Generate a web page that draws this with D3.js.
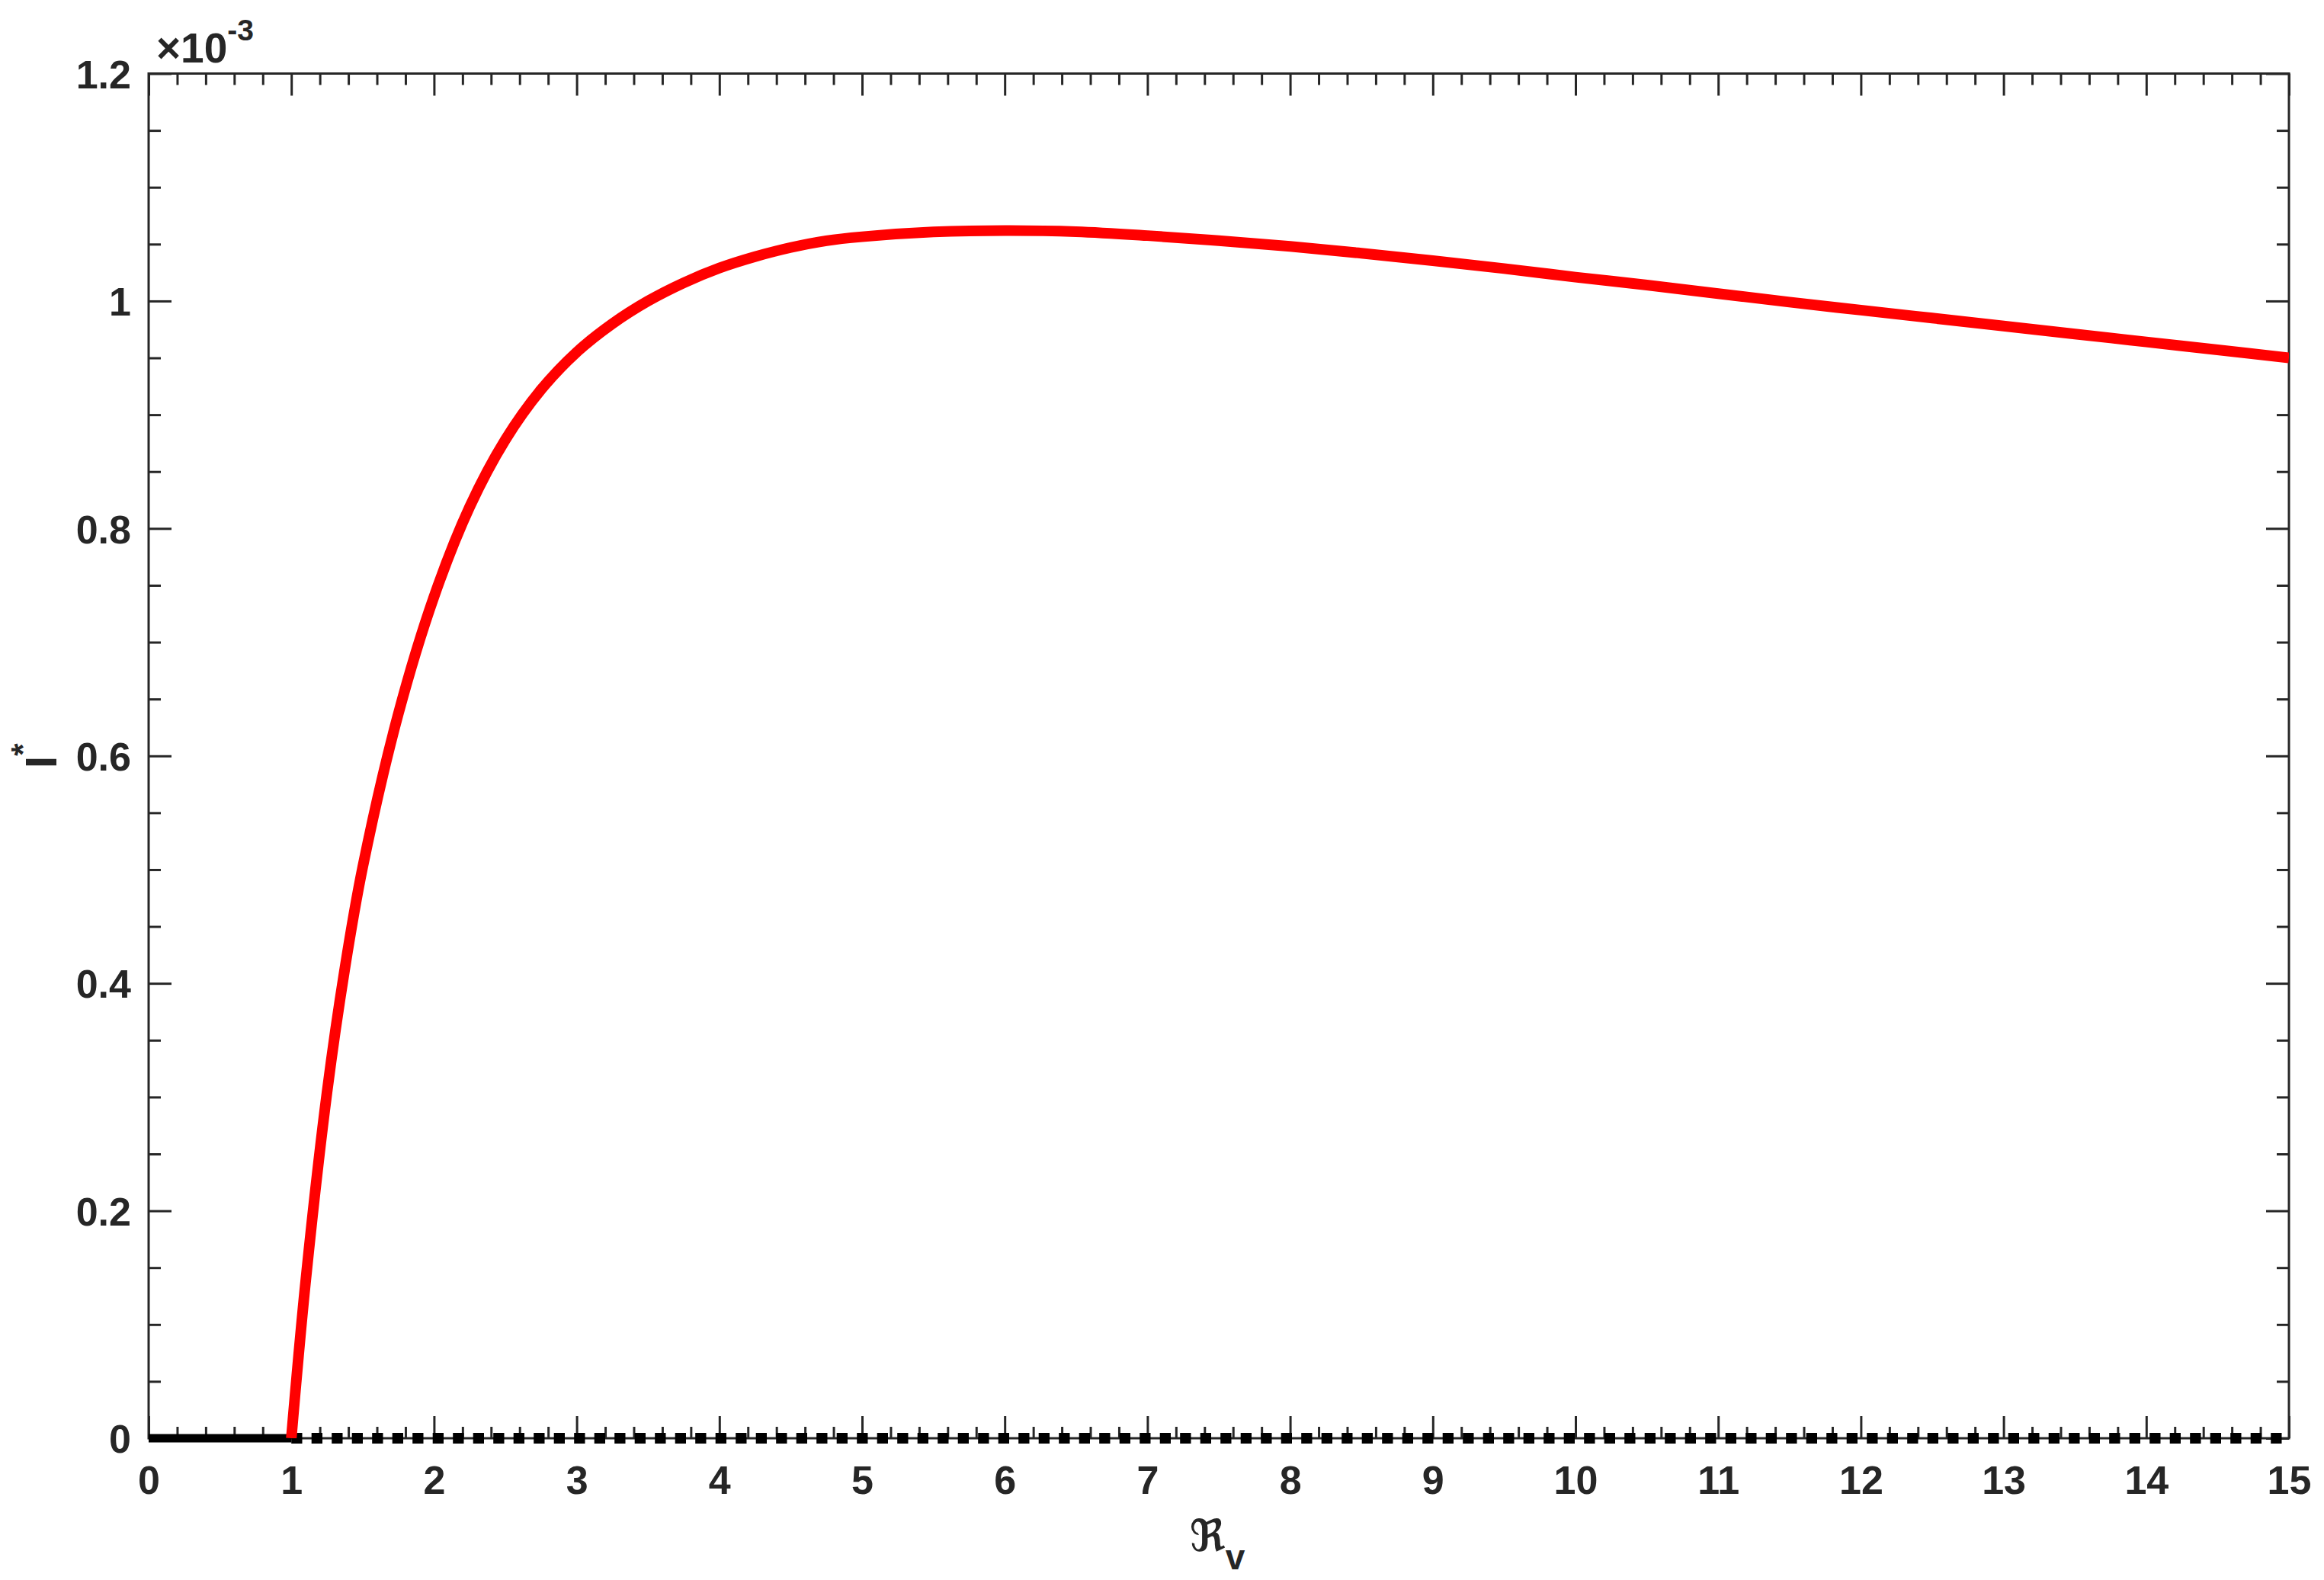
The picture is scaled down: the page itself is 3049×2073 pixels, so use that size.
<!DOCTYPE html>
<html>
<head>
<meta charset="utf-8">
<script src="https://cdn.jsdelivr.net/npm/d3@7/dist/d3.min.js"></script>
<style>
  body { margin: 0; background: #fff; }
  text { font-family: "Liberation Sans", Arial, sans-serif; font-weight: bold; fill: #262626; }
</style>
</head>
<body>
<div id="chart"></div>
<script>
// R_v values and endemic I* (in units of 1e-3)
const rvValues = [1.0, 1.1, 1.25, 1.375, 1.5, 1.75, 2.0, 2.25, 2.5, 2.75, 3.0, 3.25, 3.5, 3.75,
  4.0, 4.25, 4.5, 4.75, 5.0, 5.5, 6.0, 6.5, 7.0, 7.5, 8.0, 8.5, 9.0, 9.5, 10.0, 10.5, 11.0,
  11.5, 12.0, 12.5, 13.0, 13.5, 14.0, 14.5, 15.0];
const infectedValues = [0, 0.1375, 0.304, 0.413, 0.502, 0.637, 0.74, 0.819, 0.878, 0.922, 0.955,
  0.98, 1.0, 1.016, 1.029, 1.039, 1.047, 1.053, 1.0565, 1.0607, 1.062, 1.061, 1.0575, 1.053,
  1.048, 1.042, 1.0355, 1.0285, 1.021, 1.014, 1.0065, 0.999, 0.992, 0.985, 0.978, 0.971, 0.964,
  0.957, 0.95];

// disease-free branch: stable for R_v < 1, unstable after
const stableRange = [0, 1];
const unstableRange = [1, 15];

const xTicks = [0, 1, 2, 3, 4, 5, 6, 7, 8, 9, 10, 11, 12, 13, 14, 15];
const yTicks = [0, 0.2, 0.4, 0.6, 0.8, 1, 1.2];
const yTickLabels = ["0", "0.2", "0.4", "0.6", "0.8", "1", "1.2"];

const width = 3049;
const height = 2073;
const margin = {top: 96.5, right: 46, bottom: 186, left: 195};
const axisColor = "#262626";

const svg = d3.select("#chart").append("svg")
  .attr("width", width)
  .attr("height", height)
  .attr("viewBox", [0, 0, width, height]);

const x = d3.scaleLinear().domain([0, 15]).range([margin.left, width - margin.right]);
const y = d3.scaleLinear().domain([0, 1.2]).range([height - margin.bottom, margin.top]);

const xMinor = d3.range(0, 15.001, 0.2).filter(v => Math.abs(v - Math.round(v)) > 1e-6);
const yMinor = d3.range(0, 1.2001, 0.05).filter(v => Math.abs(v / 0.2 - Math.round(v / 0.2)) > 1e-6);

svg.append("defs").append("clipPath").attr("id", "plot-clip")
  .append("rect")
  .attr("x", x(0)).attr("y", y(1.2))
  .attr("width", x(15) - x(0)).attr("height", y(0) - y(1.2));

// tick marks, inward on all four sides
function ticks(axisFn, pos, values, size) {
  const g = svg.append("g")
    .attr("transform", pos)
    .call(axisFn.tickValues(values).tickSize(size).tickSizeOuter(0).tickFormat(""));
  g.select(".domain").remove();
  g.selectAll(".tick line").attr("stroke", axisColor).attr("stroke-width", 3);
  return g;
}
ticks(d3.axisBottom(x), `translate(0,${y(0)})`, xTicks, -29);
ticks(d3.axisBottom(x), `translate(0,${y(0)})`, xMinor, -15);
ticks(d3.axisTop(x), `translate(0,${y(1.2)})`, xTicks, -29);
ticks(d3.axisTop(x), `translate(0,${y(1.2)})`, xMinor, -15);
ticks(d3.axisLeft(y), `translate(${x(0)},0)`, yTicks, -30);
ticks(d3.axisLeft(y), `translate(${x(0)},0)`, yMinor, -16);
ticks(d3.axisRight(y), `translate(${x(15)},0)`, yTicks, -30);
ticks(d3.axisRight(y), `translate(${x(15)},0)`, yMinor, -16);

// tick labels
const xLab = svg.append("g")
  .attr("transform", `translate(0,${y(0)})`)
  .call(d3.axisBottom(x).tickValues(xTicks).tickSize(0).tickPadding(36).tickFormat(d3.format("d")));
xLab.select(".domain").remove();
xLab.selectAll("text").attr("font-size", 52).attr("fill", axisColor)
  .attr("font-family", "Liberation Sans, Arial, sans-serif").attr("font-weight", "bold");

const yLab = svg.append("g")
  .attr("transform", `translate(${x(0)},0)`)
  .call(d3.axisLeft(y).tickValues(yTicks).tickSize(0).tickPadding(23)
    .tickFormat((d, i) => yTickLabels[i]));
yLab.select(".domain").remove();
yLab.selectAll("text").attr("font-size", 52).attr("fill", axisColor).attr("dy", "0.36em")
  .attr("font-family", "Liberation Sans, Arial, sans-serif").attr("font-weight", "bold");

// frame
svg.append("rect")
  .attr("x", x(0)).attr("y", y(1.2))
  .attr("width", x(15) - x(0)).attr("height", y(0) - y(1.2))
  .attr("fill", "none").attr("stroke", axisColor).attr("stroke-width", 3);

// exponent label
const expo = svg.append("text").attr("x", x(0) + 10).attr("y", 82).attr("font-size", 55);
expo.append("tspan").text("\u00d710");
expo.append("tspan").attr("dy", -29).attr("font-size", 39).text("-3");

// disease-free equilibrium
const flat = d3.line().x(d => x(d)).y(() => y(0));
svg.append("path")
  .attr("d", flat(stableRange))
  .attr("fill", "none").attr("stroke", "#000").attr("stroke-width", 11);
svg.append("path")
  .attr("d", flat(unstableRange))
  .attr("fill", "none").attr("stroke", "#000").attr("stroke-width", 14)
  .attr("stroke-dasharray", "14.3 12.2");

// endemic equilibrium
const curve = d3.line()
  .x((d, i) => x(rvValues[i]))
  .y(d => y(d))
  .curve(d3.curveCatmullRom.alpha(0.5));
svg.append("path")
  .attr("clip-path", "url(#plot-clip)")
  .attr("d", curve(infectedValues))
  .attr("fill", "none").attr("stroke", "#ff0000").attr("stroke-width", 14)
  .attr("stroke-linejoin", "round");

// axis labels
const xTitle = svg.append("text")
  .attr("x", 1597).attr("y", 2035).attr("text-anchor", "middle").attr("font-size", 58);
xTitle.append("tspan").attr("font-family", "DejaVu Serif, DejaVu Sans, serif").text("\u211c");
xTitle.append("tspan").attr("dy", 24).attr("font-size", 46).text("v");

const yTitle = svg.append("text")
  .attr("transform", `translate(74,${(y(0) + y(1.2)) / 2}) rotate(-90)`)
  .attr("text-anchor", "middle").attr("font-size", 58);
yTitle.append("tspan").text("I");
yTitle.append("tspan").attr("dy", -30).attr("font-size", 42).text("*");
</script>
</body>
</html>
